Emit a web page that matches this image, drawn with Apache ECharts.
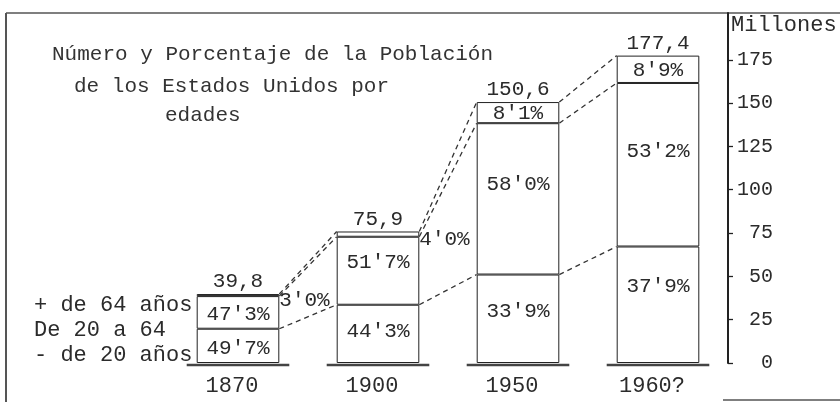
<!DOCTYPE html>
<html>
<head>
<meta charset="utf-8">
<script src="https://cdn.jsdelivr.net/npm/echarts@6/dist/echarts.min.js"></script>
<style>
html,body{margin:0;padding:0;background:#fff;}
#chart{width:840px;height:402px;}
</style>
</head>
<body>
<div id="chart"></div>
<script>
// ---- data ----
var categories = ['1870', '1900', '1950', '1960?'];
var totals = [39.8, 75.9, 150.6, 177.4];          // millones
var pctYoung = [49.7, 44.3, 33.9, 37.9];          // - de 20 años
var pctMid = [47.3, 51.7, 58.0, 53.2];            // De 20 a 64
var pctOld = [3.0, 4.0, 8.1, 8.9];                // + de 64 años
var yTicks = [0, 25, 50, 75, 100, 125, 150, 175];
var seriesNames = ['- de 20 años', 'De 20 a 64', '+ de 64 años'];
var titleLines = ['Número y Porcentaje de la Población', 'de los Estados Unidos por', 'edades'];
var axisName = 'Millones';

// ---- derived ----
var FONT = "'Liberation Mono', 'DejaVu Sans Mono', monospace";
var INK = '#2b2b2b';
var BAR_FRAC = 0.59;
function seg(p) { return totals.map(function (t, i) { return t * p[i] / 100; }); }
var young = seg(pctYoung), mid = seg(pctMid), old = seg(pctOld);
function pctText(v) { return v.toFixed(1).replace('.', "'") + '%'; }
function totText(v) { return v.toFixed(1).replace('.', ','); }

var midOffsets = [[0, 2], [0, -8], [0, -14], [0, -13]];
var youngOffsets = [[0, 3], [0, -2], [0, -7], [0, -18]];

function labelBase(extra) {
  var o = { show: true, fontFamily: FONT, fontSize: 21, color: INK };
  for (var k in extra) o[k] = extra[k];
  return o;
}

var youngData = young.map(function (v, i) {
  return { value: v, label: labelBase({ position: 'inside', offset: youngOffsets[i], formatter: pctText(pctYoung[i]) }) };
});
var midData = mid.map(function (v, i) {
  return { value: v, label: labelBase({ position: 'inside', offset: midOffsets[i], formatter: pctText(pctMid[i]) }) };
});
var oldData = old.map(function (v, i) {
  var small = pctOld[i] < 5;
  return { value: v, label: labelBase(small
    ? { position: 'right', distance: 0, offset: [0, 5], formatter: pctText(pctOld[i]) }
    : { position: 'inside', offset: [0, 1], formatter: pctText(pctOld[i]) }) };
});

// connectors: level values at each bar (total, young+mid, young)
var connData = [];
for (var i = 0; i < categories.length - 1; i++) {
  connData.push([i, totals[i], young[i] + mid[i], young[i], totals[i + 1], young[i + 1] + mid[i + 1], young[i + 1]]);
}
var baseData = categories.map(function (c, i) { return [i, 0]; });
var totalData = totals.map(function (t, i) { return [i, t]; });

var barStyle = { color: '#fff', borderColor: '#222', borderWidth: 1 };

var chart = echarts.init(document.getElementById('chart'), null, { renderer: 'canvas' });
chart.setOption({
  animation: false,
  backgroundColor: '#fff',
  textStyle: { fontFamily: FONT },
  grid: { left: 168, right: 112, top: 13, bottom: 39 },
  legend: {
    orient: 'vertical', left: 23, top: 289, itemWidth: 0, itemHeight: 0, itemGap: 3,
    selectedMode: false,
    data: [seriesNames[2], seriesNames[1], seriesNames[0]],
    textStyle: { fontFamily: FONT, fontSize: 22, lineHeight: 22, color: INK }
  },
  xAxis: {
    type: 'category', data: categories,
    axisLine: { show: false }, axisTick: { show: false },
    axisLabel: { fontFamily: FONT, fontSize: 22, color: INK, margin: 12, padding: [0, 12, 0, 0] }
  },
  yAxis: {
    type: 'value', position: 'right', min: 0, max: 202,
    splitLine: { show: false },
    axisLine: { show: true, lineStyle: { color: '#222', width: 2 } },
    axisTick: { show: true, length: 5, customValues: yTicks, lineStyle: { color: '#222', width: 1.3 } },
    axisLabel: { customValues: yTicks, fontFamily: FONT, fontSize: 20, color: INK, align: 'right', margin: 45 }
  },
  graphic: [
    { type: 'text', left: 52, top: 44, style: { text: titleLines[0], font: '21px ' + FONT, fill: '#333' } },
    { type: 'text', left: 74, top: 76, style: { text: titleLines[1], font: '21px ' + FONT, fill: '#333' } },
    { type: 'text', left: 165, top: 105, style: { text: titleLines[2], font: '21px ' + FONT, fill: '#333' } },
    { type: 'text', left: 731, top: 14, style: { text: axisName, font: '22px ' + FONT, fill: INK } },
    { type: 'line', shape: { x1: 6, y1: 13, x2: 840, y2: 13 }, style: { stroke: '#555', lineWidth: 1.5 } },
    { type: 'line', shape: { x1: 6, y1: 13, x2: 6, y2: 402 }, style: { stroke: '#555', lineWidth: 2 } },
    { type: 'line', shape: { x1: 723, y1: 400, x2: 840, y2: 400 }, style: { stroke: '#555', lineWidth: 1.5 } }
  ],
  series: [
    { name: seriesNames[0], type: 'bar', stack: 'pop', barWidth: (BAR_FRAC * 100) + '%', data: youngData, itemStyle: barStyle },
    { name: seriesNames[1], type: 'bar', stack: 'pop', barWidth: (BAR_FRAC * 100) + '%', data: midData, itemStyle: barStyle },
    { name: seriesNames[2], type: 'bar', stack: 'pop', barWidth: (BAR_FRAC * 100) + '%', data: oldData, itemStyle: barStyle },
    {
      type: 'custom', data: totalData, z: 5,
      renderItem: function (params, api) {
        var p = api.coord([api.value(0), api.value(1)]);
        return { type: 'text', x: p[0], y: p[1] - 2,
          style: { text: totText(api.value(1)), font: '21px ' + FONT, fill: INK, align: 'center', verticalAlign: 'bottom' } };
      }
    },
    {
      type: 'custom', data: connData, z: 4,
      encode: { x: 0, y: [1, 2, 3, 4, 5, 6] },
      renderItem: function (params, api) {
        var idx = api.value(0);
        var half = api.size([1, 0])[0] * BAR_FRAC / 2;
        var ch = [];
        for (var k = 0; k < 3; k++) {
          var a = api.coord([idx, api.value(1 + k)]);
          var b = api.coord([idx + 1, api.value(4 + k)]);
          ch.push({ type: 'line', shape: { x1: a[0] + half, y1: a[1], x2: b[0] - half, y2: b[1] },
            style: { stroke: '#333', lineWidth: 1.3, lineDash: [5, 4] } });
        }
        return { type: 'group', children: ch };
      }
    },
    {
      type: 'custom', data: baseData, z: 4,
      renderItem: function (params, api) {
        var p = api.coord([api.value(0), 0]);
        var half = api.size([1, 0])[0] * BAR_FRAC / 2;
        return { type: 'line', shape: { x1: p[0] - half - 10, y1: p[1] + 2, x2: p[0] + half + 10, y2: p[1] + 2 },
          style: { stroke: '#444', lineWidth: 2.5 } };
      }
    }
  ]
});
</script>
</body>
</html>
